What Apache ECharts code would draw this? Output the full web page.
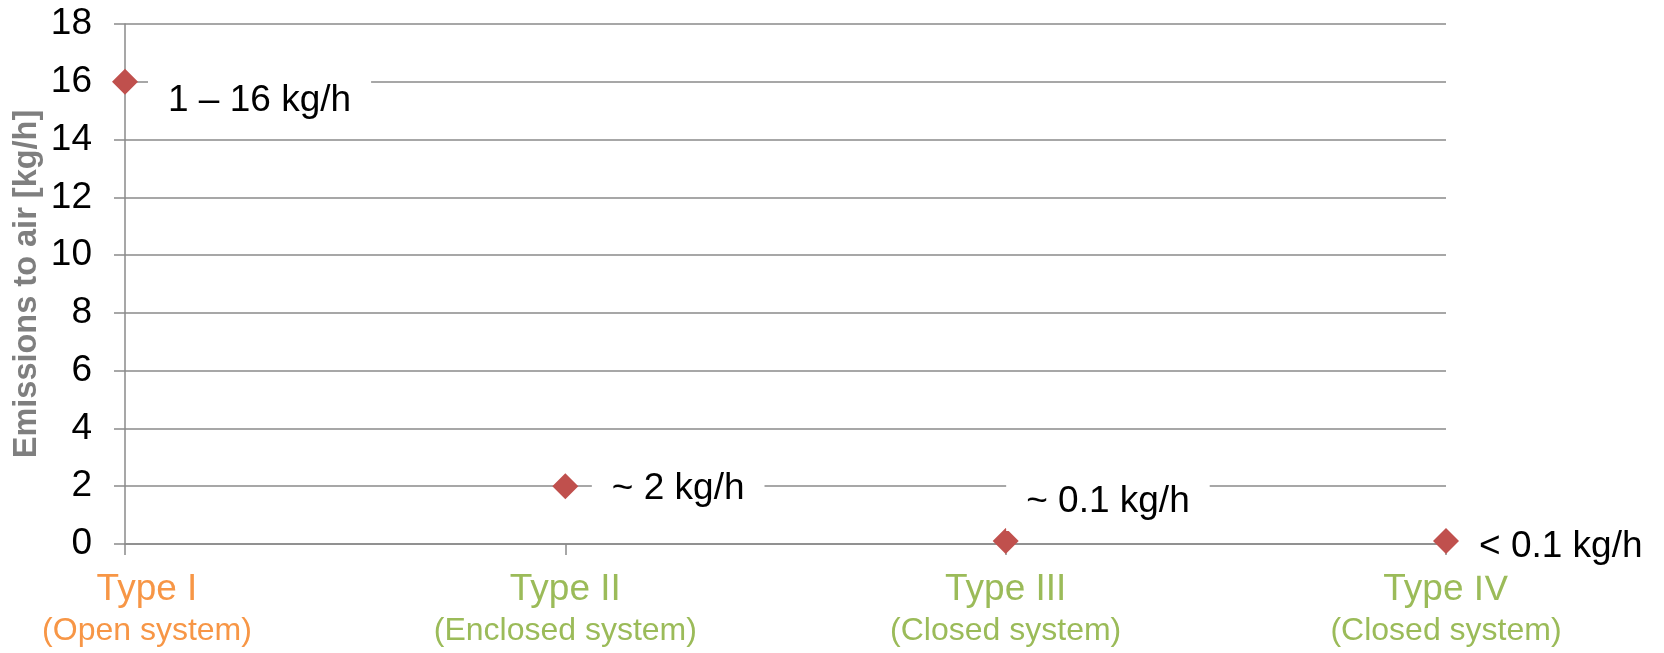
<!DOCTYPE html>
<html>
<head>
<meta charset="utf-8">
<script src="https://cdn.jsdelivr.net/npm/echarts@6/dist/echarts.min.js"></script>
<style>
html,body{margin:0;padding:0;background:#fff;}
#chart{width:1664px;height:653px;}
</style>
</head>
<body>
<div id="chart"></div>
<script>
const categories = ['Type I', 'Type II', 'Type III', 'Type IV'];
const subtitles = ['(Open system)', '(Enclosed system)', '(Closed system)', '(Closed system)'];
const values = [16, 2, 0.1, 0.1];
const pointLabels = ['1 \u2013 16 kg/h', '~ 2 kg/h', '~ 0.1 kg/h', '< 0.1 kg/h'];
const yAxisName = 'Emissions to air [kg/h]';

// label placement (layout, not data)
const labelOffsets = [[10, 18.6], [13.5, 2.3], [-12.5, -39], [0, 5.6]];

const FONT = "'Liberation Sans', Arial, sans-serif";
const GRID = '#8A8A8A';

const chart = echarts.init(document.getElementById('chart'), null, {renderer: 'canvas'});
chart.setOption({
  animation: false,
  backgroundColor: '#fff',
  grid: {left: 125, right: 218, top: 24, bottom: 109, containLabel: false, outerBoundsMode: 'none'},
  xAxis: {
    type: 'category',
    data: categories,
    boundaryGap: false,
    axisLine: {show: true, lineStyle: {color: GRID, width: 1.5}},
    axisTick: {show: true, length: 11, alignWithLabel: true, lineStyle: {color: GRID, width: 1.5}},
    splitLine: {show: false},
    axisLabel: {
      margin: 25,
      interval: 0,
      fontFamily: FONT,
      formatter: function (v, i) {
        const k = i === 0 ? 'o' : 'g';
        return '{' + k + 't|' + v + '}\n{' + k + 's|' + subtitles[i] + '}';
      },
      rich: {
        ot: {fontSize: 37, lineHeight: 42, color: '#F79646', fontFamily: FONT, padding: [0, 0, 0, 44]},
        os: {fontSize: 32, lineHeight: 40, color: '#F79646', fontFamily: FONT, padding: [0, 0, 0, 44]},
        gt: {fontSize: 37, lineHeight: 42, color: '#9BBB59', fontFamily: FONT},
        gs: {fontSize: 32, lineHeight: 40, color: '#9BBB59', fontFamily: FONT}
      }
    }
  },
  yAxis: {
    type: 'value',
    min: 0,
    max: 18,
    interval: 2,
    name: yAxisName,
    nameLocation: 'middle',
    nameGap: 81,
    nameMoveOverlap: false,
    nameTextStyle: {fontSize: 32.5, fontWeight: 'bold', color: '#7F7F7F', fontFamily: FONT},
    axisLine: {show: true, lineStyle: {color: GRID, width: 1.5}},
    axisTick: {show: true, length: 11, lineStyle: {color: GRID, width: 1.5}},
    splitLine: {show: true, lineStyle: {color: GRID, width: 1.5}},
    axisLabel: {margin: 33, fontSize: 37, color: '#000', fontFamily: FONT}
  },
  series: [{
    type: 'scatter',
    symbol: 'diamond',
    symbolSize: 26,
    itemStyle: {color: '#C0504D', opacity: 1},
    emphasis: {disabled: true},
    data: values.map(function (v, i) {
      return {
        value: v,
        label: {
          show: true,
          position: 'right',
          distance: 0,
          offset: labelOffsets[i],
          formatter: pointLabels[i],
          fontSize: 37,
          lineHeight: 42,
          color: '#000',
          opacity: 1,
          fontFamily: FONT,
          backgroundColor: '#fff',
          padding: [8, 20, 8, 20]
        }
      };
    })
  }]
});
</script>
</body>
</html>
